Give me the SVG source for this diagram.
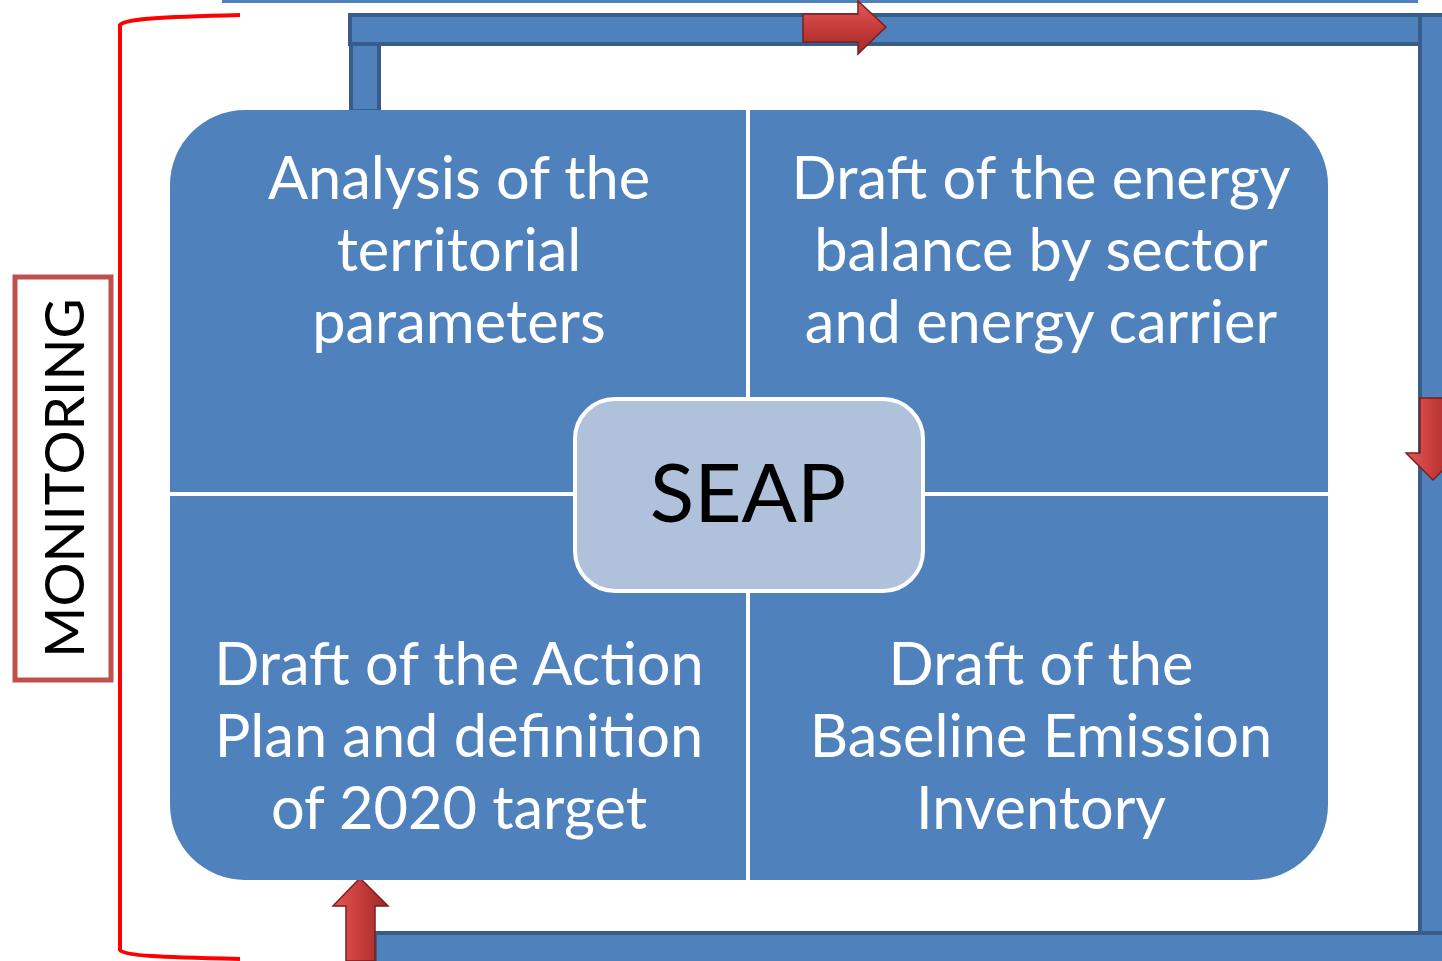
<svg xmlns="http://www.w3.org/2000/svg" width="1442" height="961" viewBox="0 0 1442 961">
<style>
.bar{fill:#4F81BD;stroke:#385D8A;stroke-width:4}
.q{font-family:Lato,"Liberation Sans",sans-serif;font-size:59.5px;fill:#FFFFFF;text-anchor:middle}
.seap{font-family:Lato,"Liberation Sans",sans-serif;font-size:82px;fill:#000000;text-anchor:middle}
.mon{font-family:Lato,"Liberation Sans",sans-serif;font-size:55px;fill:#000000;text-anchor:middle}
</style>
<defs>
<linearGradient id="redv" x1="0" y1="0" x2="1" y2="0">
<stop offset="0" stop-color="#E25A57"/>
<stop offset="0.5" stop-color="#C63C3A"/>
<stop offset="1" stop-color="#9E2A28"/>
</linearGradient>
<linearGradient id="red" x1="0" y1="0" x2="0" y2="1">
<stop offset="0" stop-color="#E25A57"/>
<stop offset="0.5" stop-color="#C63C3A"/>
<stop offset="1" stop-color="#9E2A28"/>
</linearGradient>
</defs>
<rect x="0" y="0" width="1442" height="961" fill="#FFFFFF"/>

<g id="connectors">
<rect x="222" y="0" width="1196" height="3" fill="#4F81BD"/>
<rect class="bar" x="351" y="30" width="28" height="81"/>
<rect class="bar" x="350" y="15" width="1100" height="29"/>
<rect class="bar" x="1420" y="15" width="30" height="935"/>
<rect class="bar" x="375" y="933" width="1075" height="40"/>
<path d="M240,15 C160,17 124,19 120,25 L120,950 C124,956 160,957 240,959" fill="none" stroke="#FF0000" stroke-width="4"/>
<path d="M803,14 L858,14 L858,1 L886,27 L858,54 L858,42 L803,42 Z" fill="url(#red)" stroke="#7A1E1E" stroke-width="1.5"/>
<path d="M1420,398 L1446,398 L1446,453 L1460,453 L1433,480 L1406,453 L1420,453 Z" fill="url(#redv)" stroke="#7A1E1E" stroke-width="1.5"/>
<path d="M346,961 L346,906 L333,906 L360,878 L388,906 L375,906 L375,961 Z" fill="url(#redv)" stroke="#7A1E1E" stroke-width="1.5"/>
</g>

<g id="matrix">
<rect x="170" y="110" width="1158" height="770" rx="75" ry="75" fill="#4F81BD"/>
<line x1="748" y1="110" x2="748" y2="880" stroke="#FFFFFF" stroke-width="4"/>
<line x1="170" y1="494" x2="1328" y2="494" stroke="#FFFFFF" stroke-width="4"/>
</g>

<g id="q-analysis">
<text class="q" x="459" y="199">Analysis of the</text>
<text class="q" x="459" y="271">territorial</text>
<text class="q" x="459" y="343">parameters</text>
</g>
<g id="q-energy">
<text class="q" x="1041" y="199">Draft of the energy</text>
<text class="q" x="1041" y="271">balance by sector</text>
<text class="q" x="1041" y="343">and energy carrier</text>
</g>
<g id="q-action">
<text class="q" x="459" y="685">Draft of the Action</text>
<text class="q" x="459" y="757">Plan and definition</text>
<text class="q" x="459" y="829">of 2020 target</text>
</g>
<g id="q-bei">
<text class="q" x="1041" y="685">Draft of the</text>
<text class="q" x="1041" y="757">Baseline Emission</text>
<text class="q" x="1041" y="829">Inventory</text>
</g>

<g id="seap">
<rect x="575" y="399" width="348" height="192" rx="40" ry="40" fill="#B0C1DC" stroke="#FFFFFF" stroke-width="4"/>
<text class="seap" x="748" y="522">SEAP</text>
</g>

<g id="monitoring">
<rect x="15" y="277" width="96" height="403" fill="#FFFFFF" stroke="#C0504D" stroke-width="5"/>
<text class="mon" transform="translate(84,478) rotate(-90)" x="0" y="0">MONITORING</text>
</g>
</svg>
